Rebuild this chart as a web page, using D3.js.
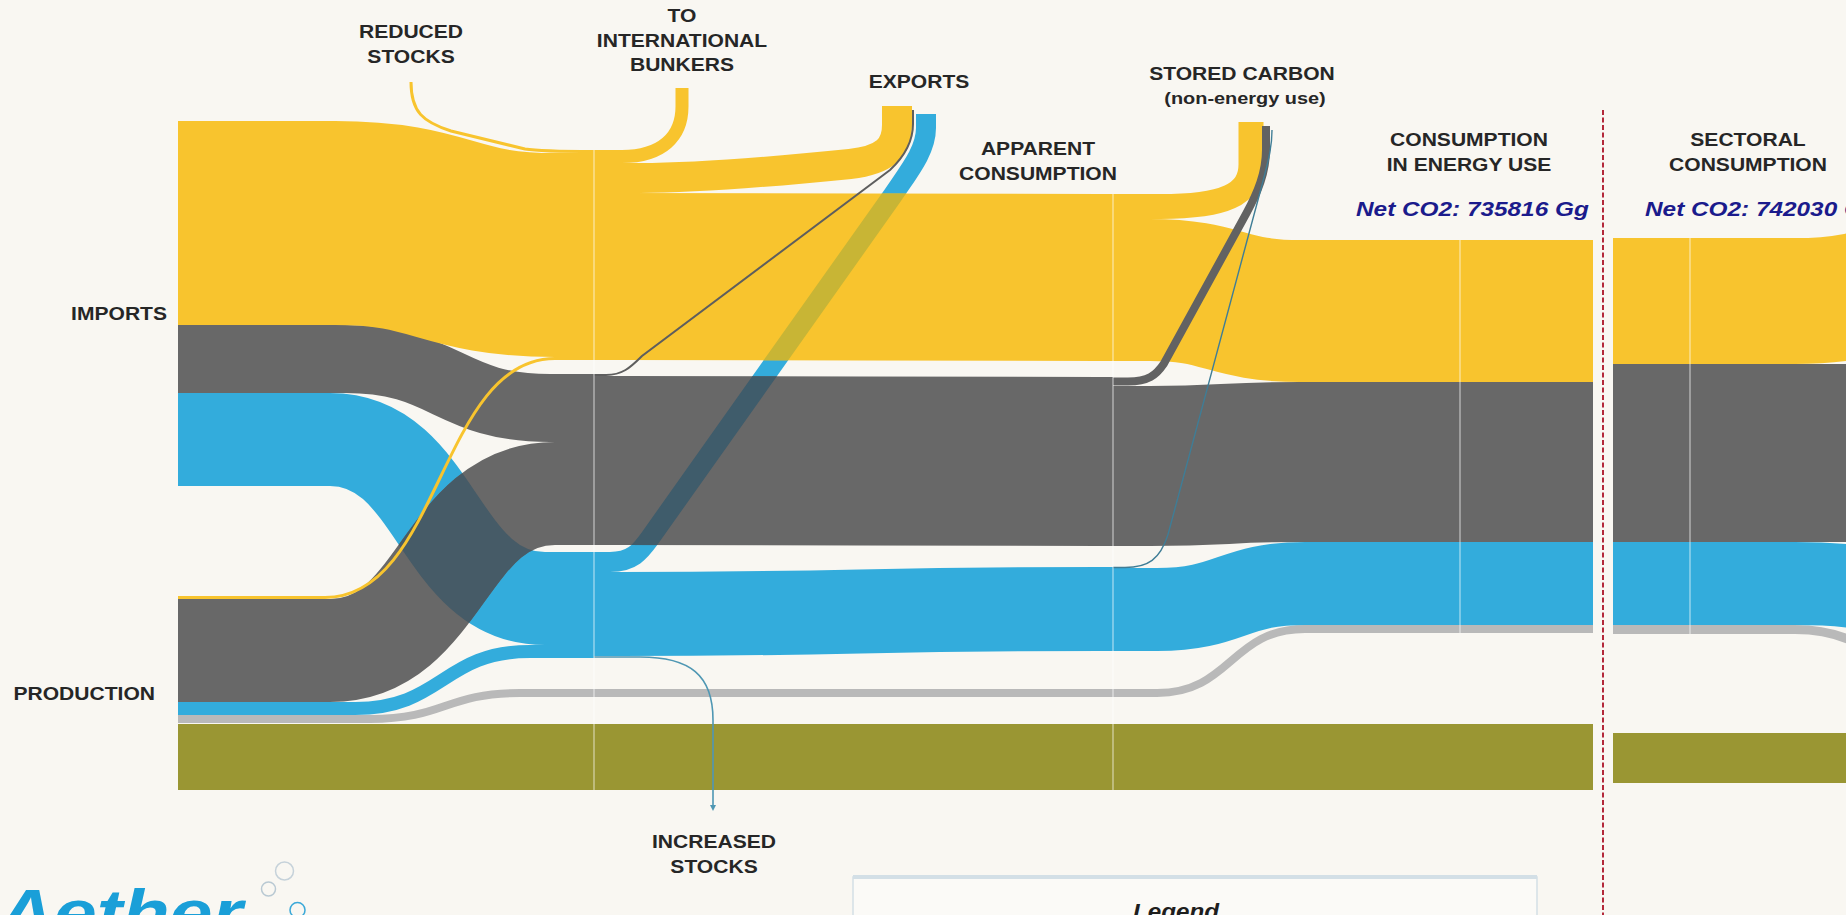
<!DOCTYPE html>
<html>
<head>
<meta charset="utf-8">
<title>CO2 reference approach flows</title>
<script src="https://cdn.jsdelivr.net/npm/d3@7"></script>
<style>
  html, body { margin: 0; padding: 0; background: #f9f7f2; overflow: hidden; }
  svg { display: block; }
  text { font-family: "Liberation Sans", Arial, Helvetica, sans-serif; }
</style>
</head>
<body>
<script>
// emissions in Gg CO2, one entry per fuel (same order as fuels)
var fuels = ["Liquid fuels", "Solid fuels", "Gaseous fuels", "Other fossil fuels", "Biomass"];
var fuelColors = ["#f8c42e", "#686868", "#33acdc", "#b9b9b9", "#9a9633"];

var imports         = [381716, 127300, 174100, 0, 0];
var production      = [5600, 192800, 24300, 15000, 123500];
var reducedStocks   = [5600, 0, 0, 0, 0];
var bunkers         = [24300, 0, 0, 0, 0];
var exportsOut      = [56200, 3700, 38000, 0, 0];
var increasedStocks = [0, 0, 3700, 0, 0];
var storedCarbon    = [46000, 16900, 1800, 0, 0];
var sectoral        = [236000, 334000, 155030, 17000, 93600];

var sourceLabels = ["IMPORTS", "PRODUCTION"];
var stageLabels = [
  ["REDUCED", "STOCKS"],
  ["TO", "INTERNATIONAL", "BUNKERS"],
  ["EXPORTS"],
  ["APPARENT", "CONSUMPTION"],
  ["STORED CARBON"],
  ["CONSUMPTION", "IN ENERGY USE"],
  ["SECTORAL", "CONSUMPTION"],
  ["INCREASED", "STOCKS"]
];

var W = 1846, H = 915;
var X = {left: 178, supply: 594, apparent: 1113, energy: 1460, energyEnd: 1593,
         divider: 1603, sector: 1613, sectorLine: 1690, fan: 1795};

// balances
var supply = fuels.map(function(f, i) { return imports[i] + production[i] + reducedStocks[i]; });
var apparent = supply.map(function(v, i) { return v - bunkers[i] - exportsOut[i] - increasedStocks[i]; });
var energyUse = apparent.map(function(v, i) { return v - storedCarbon[i]; });
var fossil = [0, 1, 2, 3];
var netEnergy = d3.sum(fossil, function(i) { return energyUse[i]; });
var netSector = d3.sum(fossil, function(i) { return sectoral[i]; });

// value -> band thickness
var wS = d3.scaleLinear().domain([0, netEnergy]).rangeRound([0, 393]);

function stack(vals, top, gaps) {
  var y = top;
  return vals.map(function(v, i) {
    y += gaps ? gaps[i] : 0;
    var a = y; y += wS(v);
    return [a, y];
  });
}
function sub(y0, vals) {
  var y = y0;
  return vals.map(function(v) { var a = y; y += wS(v); return [a, y]; });
}
function mid(s) { return (s[0] + s[1]) / 2; }

var impY  = stack(imports.slice(0, 3), 121);
var prodY = stack(production, 596, [0, 0, 0, 0, 1]);
var supY  = stack(supply.slice(0, 4), 150, [0, 14, 7, 31]);
var appY  = stack(apparent.slice(0, 4), 194, [0, 16, 21, 38]);
var engY  = stack(energyUse.slice(0, 4), 240);
var secY  = stack(sectoral.slice(0, 4), 238);
var secBio = [733, 733 + wS(sectoral[4])];

var supIn = [], supOut = [], appOut = [];
fossil.forEach(function(i) {
  supIn[i]  = sub(supY[i][0], [reducedStocks[i], imports[i], production[i]]);
  supOut[i] = sub(supY[i][0], [bunkers[i], exportsOut[i], apparent[i], increasedStocks[i]]);
  appOut[i] = sub(appY[i][0], [storedCarbon[i], energyUse[i]]);
});

// where each horizontal transition bends
var trImports    = [[335, 555], [345, 550], [330, 545]];
var trProduction = [[325, 555], [330, 555], [355, 530], [370, 520]];
var trEnergy     = [[1150, 1300], [1150, 1300], [1157, 1305], [1157, 1305]];
var fanShift     = [-32, 0, 20, 80];

function hLink(x0, y0, xa, xb, y1, x1) {
  var p = d3.path(), m = (xa + xb) / 2;
  p.moveTo(x0, y0); p.lineTo(xa, y0);
  p.bezierCurveTo(m, y0, m, y1, xb, y1);
  p.lineTo(x1, y1);
  return p.toString();
}

var svg = d3.select("body").append("svg").attr("width", W).attr("height", H);
svg.append("rect").attr("width", W).attr("height", H).attr("fill", "#f9f7f2");
var defs = svg.append("defs");
defs.append("marker").attr("id", "arrow").attr("viewBox", "0 0 6 6")
    .attr("refX", 1).attr("refY", 3).attr("markerWidth", 6).attr("markerHeight", 6)
    .attr("markerUnits", "userSpaceOnUse").attr("orient", "auto")
  .append("path").attr("d", "M0,0L6,3L0,6Z").attr("fill", "#4f97b3");

var gBio = svg.append("g"), gOther = svg.append("g"), gGas = svg.append("g"),
    gSolid = svg.append("g"), gLiquid = svg.append("g"), gOver = svg.append("g"),
    gTop = svg.append("g"), gNodes = svg.append("g"), gText = svg.append("g");
var fuelLayer = [gLiquid, gSolid, gGas, gOther];

function band(layer, d, w, color) {
  if (w <= 0) return null;
  layer.append("path").attr("d", d).attr("fill", "none")
    .attr("stroke", color).attr("stroke-width", w).attr("stroke-linecap", "butt");
  return {d: d, w: w};
}

var maskId = 0;
function overlap(top, under, color) {
  var id = "ov" + (maskId++);
  defs.append("mask").attr("id", id).attr("maskUnits", "userSpaceOnUse")
      .attr("x", 0).attr("y", 0).attr("width", W).attr("height", H)
    .append("path").attr("d", under.d).attr("fill", "none")
      .attr("stroke", "#fff").attr("stroke-width", under.w);
  gOver.append("path").attr("d", top.d).attr("fill", "none").attr("stroke", color)
    .attr("stroke-width", top.w).attr("mask", "url(#" + id + ")");
}

// biomass runs straight through
band(gBio, hLink(X.left, mid(prodY[4]), 400, 401, mid(prodY[4]), X.energyEnd), wS(production[4]), fuelColors[4]);
band(gBio, hLink(X.sector, mid(secBio), 1900, 1901, mid(secBio), W + 10), wS(sectoral[4]), fuelColors[4]);

// imports & production -> supply
var impFlows = [], prodFlows = [];
[0, 1, 2].forEach(function(i) {
  impFlows[i] = band(fuelLayer[i], hLink(X.left, mid(impY[i]), trImports[i][0], trImports[i][1],
      mid(supIn[i][1]), X.supply), wS(imports[i]), fuelColors[i]);
});
fossil.forEach(function(i) {
  prodFlows[i] = band(i === 0 ? gTop : fuelLayer[i], hLink(X.left, mid(prodY[i]), trProduction[i][0],
      trProduction[i][1], mid(supIn[i][2]), X.supply), wS(production[i]), fuelColors[i]);
});
overlap(impFlows[2], prodFlows[1], "#465b67");

// reduced stocks feed into the top of liquid supply
(function() {
  var c = mid(supIn[0][0]), tip = {x: 411, y: 82}, p = d3.path();
  p.moveTo(tip.x, tip.y);
  p.bezierCurveTo(tip.x, tip.y + 30, tip.x + 12, tip.y + 40, tip.x + 40, tip.y + 49);
  p.lineTo(525, c - 2.5);
  p.bezierCurveTo(540, c, 560, c, X.supply, c);
  band(gTop, p.toString(), wS(reducedStocks[0]), fuelColors[0]);
})();

// supply -> apparent consumption
var appFlows = [];
fossil.forEach(function(i) {
  appFlows[i] = band(fuelLayer[i], hLink(X.supply, mid(supOut[i][2]), 620, 1100, mid(appY[i]), X.apparent),
      wS(apparent[i]), fuelColors[i]);
});

// bunkers
(function() {
  var c = mid(supOut[0][0]), tip = {x: 682, y: 88}, p = d3.path();
  p.moveTo(X.supply, c); p.lineTo(tip.x - 60, c);
  p.bezierCurveTo(tip.x - 20, c, tip.x, c - 20, tip.x, c - 50);
  p.lineTo(tip.x, tip.y);
  band(gLiquid, p.toString(), wS(bunkers[0]), fuelColors[0]);
})();

// exports
var expGas;
(function() {
  var c = mid(supOut[0][1]), tip = {x: 897, y: 106}, p = d3.path();
  p.moveTo(X.supply, c); p.lineTo(640, c);
  p.bezierCurveTo(700, c, 790, c - 8, 850, c - 14);
  p.bezierCurveTo(885, c - 18, tip.x, c - 30, tip.x, c - 53);
  p.lineTo(tip.x, tip.y);
  band(gLiquid, p.toString(), wS(exportsOut[0]), fuelColors[0]);

  c = mid(supOut[2][1]); tip = {x: 926, y: 114}; p = d3.path();
  p.moveTo(X.supply, c); p.lineTo(610, c);
  p.bezierCurveTo(632, c, 640, c - 10, 650, c - 24);
  p.lineTo(tip.x - 33, tip.y + 81);
  p.bezierCurveTo(tip.x - 16, tip.y + 56, tip.x, tip.y + 36, tip.x, tip.y + 14);
  p.lineTo(tip.x, tip.y);
  expGas = band(gGas, p.toString(), wS(exportsOut[2]), fuelColors[2]);

  c = mid(supOut[1][1]); tip = {x: 913, y: 110}; p = d3.path();
  p.moveTo(X.supply, c); p.lineTo(606, c);
  p.bezierCurveTo(622, c, 630, c - 7, 642, c - 19);
  p.lineTo(tip.x - 23, tip.y + 60);
  p.bezierCurveTo(tip.x - 8, tip.y + 46, tip.x, tip.y + 32, tip.x, tip.y + 14);
  p.lineTo(tip.x, tip.y);
  band(gTop, p.toString(), Math.max(1.6, wS(exportsOut[1])), "#5e5e5e");
})();
overlap(expGas, appFlows[1], "#3f5c6b");
overlap(expGas, appFlows[0], "#c8b535");

// increased stocks
(function() {
  var c = mid(supOut[2][3]), tip = {x: 713, y: 806}, p = d3.path();
  p.moveTo(X.supply, c); p.lineTo(640, c);
  p.bezierCurveTo(690, c, tip.x, c + 18, tip.x, c + 63);
  p.lineTo(tip.x, tip.y);
  gTop.append("path").attr("d", p.toString()).attr("fill", "none").attr("stroke", "#4f97b3")
    .attr("stroke-width", Math.max(1.6, wS(increasedStocks[2]) - 0.4)).attr("marker-end", "url(#arrow)");
})();

// apparent -> consumption in energy use
fossil.forEach(function(i) {
  band(fuelLayer[i], hLink(X.apparent, mid(appOut[i][1]), trEnergy[i][0], trEnergy[i][1],
      mid(engY[i]), X.energyEnd), wS(energyUse[i]), fuelColors[i]);
});

// stored carbon (non-energy use)
(function() {
  var c = mid(appOut[0][0]), tip = {x: 1251, y: 122}, p = d3.path();
  p.moveTo(X.apparent, c); p.lineTo(1160, c);
  p.bezierCurveTo(1225, c, tip.x, c - 12, tip.x, c - 42);
  p.lineTo(tip.x, tip.y);
  band(gLiquid, p.toString(), wS(storedCarbon[0]), fuelColors[0]);

  c = mid(appOut[1][0]); tip = {x: 1266, y: 126}; p = d3.path();
  p.moveTo(X.apparent, c); p.lineTo(1128, c);
  p.bezierCurveTo(1148, c, 1156, c - 6, 1164, c - 18);
  p.lineTo(tip.x - 20, tip.y + 88);
  p.bezierCurveTo(tip.x - 8, tip.y + 66, tip.x, tip.y + 46, tip.x, tip.y + 24);
  p.lineTo(tip.x, tip.y);
  band(gTop, p.toString(), wS(storedCarbon[1]) - 1, "#626262");

  c = mid(appOut[2][0]); tip = {x: 1272, y: 130}; p = d3.path();
  p.moveTo(X.apparent, c); p.lineTo(1125, c);
  p.bezierCurveTo(1148, c, 1160, c - 8, 1168, c - 33);
  p.lineTo(tip.x - 10, tip.y + 55);
  p.bezierCurveTo(tip.x - 5, tip.y + 35, tip.x, tip.y + 20, tip.x, tip.y);
  band(gTop, p.toString(), Math.max(1.4, wS(storedCarbon[2])), "#3f7d96");
})();

// sectoral consumption (fans out beyond the frame)
fossil.forEach(function(i) {
  var c = mid(secY[i]);
  band(fuelLayer[i], hLink(X.sector, c, X.fan, X.fan + 200, c + fanShift[i], X.fan + 210),
      wS(sectoral[i]), fuelColors[i]);
});

// node separators
var nodeLines = [
  [X.supply, supY[0][0], prodY[4][1]],
  [X.apparent, appY[0][0], prodY[4][1]],
  [X.energy, engY[0][0], engY[3][1]],
  [X.sectorLine, secY[0][0], secY[3][1]]
];
gNodes.selectAll("line.node").data(nodeLines).enter().append("line")
  .attr("x1", function(d) { return d[0]; }).attr("x2", function(d) { return d[0]; })
  .attr("y1", function(d) { return d[1]; }).attr("y2", function(d) { return d[2]; })
  .attr("stroke", "rgba(255,255,255,0.6)").attr("stroke-width", 1.2);

gNodes.append("line").attr("x1", X.divider).attr("x2", X.divider).attr("y1", 110).attr("y2", H)
  .attr("stroke", "#b3283a").attr("stroke-width", 2).attr("stroke-dasharray", "5,2.5");

// text
function label(x, y, str, o) {
  o = o || {};
  gText.append("text")
    .attr("transform", "translate(" + x + "," + y + ") scale(" + (o.sx || 1.17) + ",1)")
    .attr("text-anchor", o.anchor || "middle")
    .attr("font-size", o.size || 18)
    .attr("font-weight", o.weight || "bold")
    .attr("font-style", o.style || "normal")
    .attr("fill", o.fill || "#262626")
    .text(str);
}
var stagePos = [[411, 38], [682, 22], [919, 88], [1038, 155], [1242, 80], [1469, 146], [1748, 146], [714, 848]];
stageLabels.forEach(function(lines, k) {
  lines.forEach(function(s, j) { label(stagePos[k][0], stagePos[k][1] + j * 24.5, s); });
});
label(1245, 104, "(non-energy use)", {size: 17});
label(167, 320, sourceLabels[0], {anchor: "end"});
label(155, 700, sourceLabels[1], {anchor: "end"});

var fmt = d3.format("d");
label(1356, 216, "Net CO2: " + fmt(netEnergy) + " Gg", {anchor: "start", size: 21, style: "italic", fill: "#1b1b8c", sx: 1.16});
label(1645, 216, "Net CO2: " + fmt(netSector) + " Gg", {anchor: "start", size: 21, style: "italic", fill: "#1b1b8c", sx: 1.16});

// legend box (continues below the frame)
gText.append("rect").attr("x", 853).attr("y", 877).attr("width", 684).attr("height", 120)
  .attr("fill", "#fbfaf7").attr("stroke", "#d3dfe6").attr("stroke-width", 1.5);
gText.append("line").attr("x1", 853).attr("x2", 1537).attr("y1", 877).attr("y2", 877)
  .attr("stroke", "#d3dfe6").attr("stroke-width", 4);
label(1176, 919, "Legend", {size: 22, style: "italic", fill: "#1e1e1e", sx: 1.1});

// logo
label(-2, 936, "Aether", {anchor: "start", size: 66, style: "italic", fill: "#1a9fd8", sx: 1.17});
var bubbles = [[284.5, 871, 9, "#c6d2da"], [268.5, 889, 7, "#b9c9d3"], [297.5, 910, 7.5, "#3aa8d8"]];
gText.selectAll("circle.bubble").data(bubbles).enter().append("circle")
  .attr("cx", function(d) { return d[0]; }).attr("cy", function(d) { return d[1]; })
  .attr("r", function(d) { return d[2]; }).attr("fill", "none")
  .attr("stroke", function(d) { return d[3]; }).attr("stroke-width", 1.5);
</script>
</body>
</html>
